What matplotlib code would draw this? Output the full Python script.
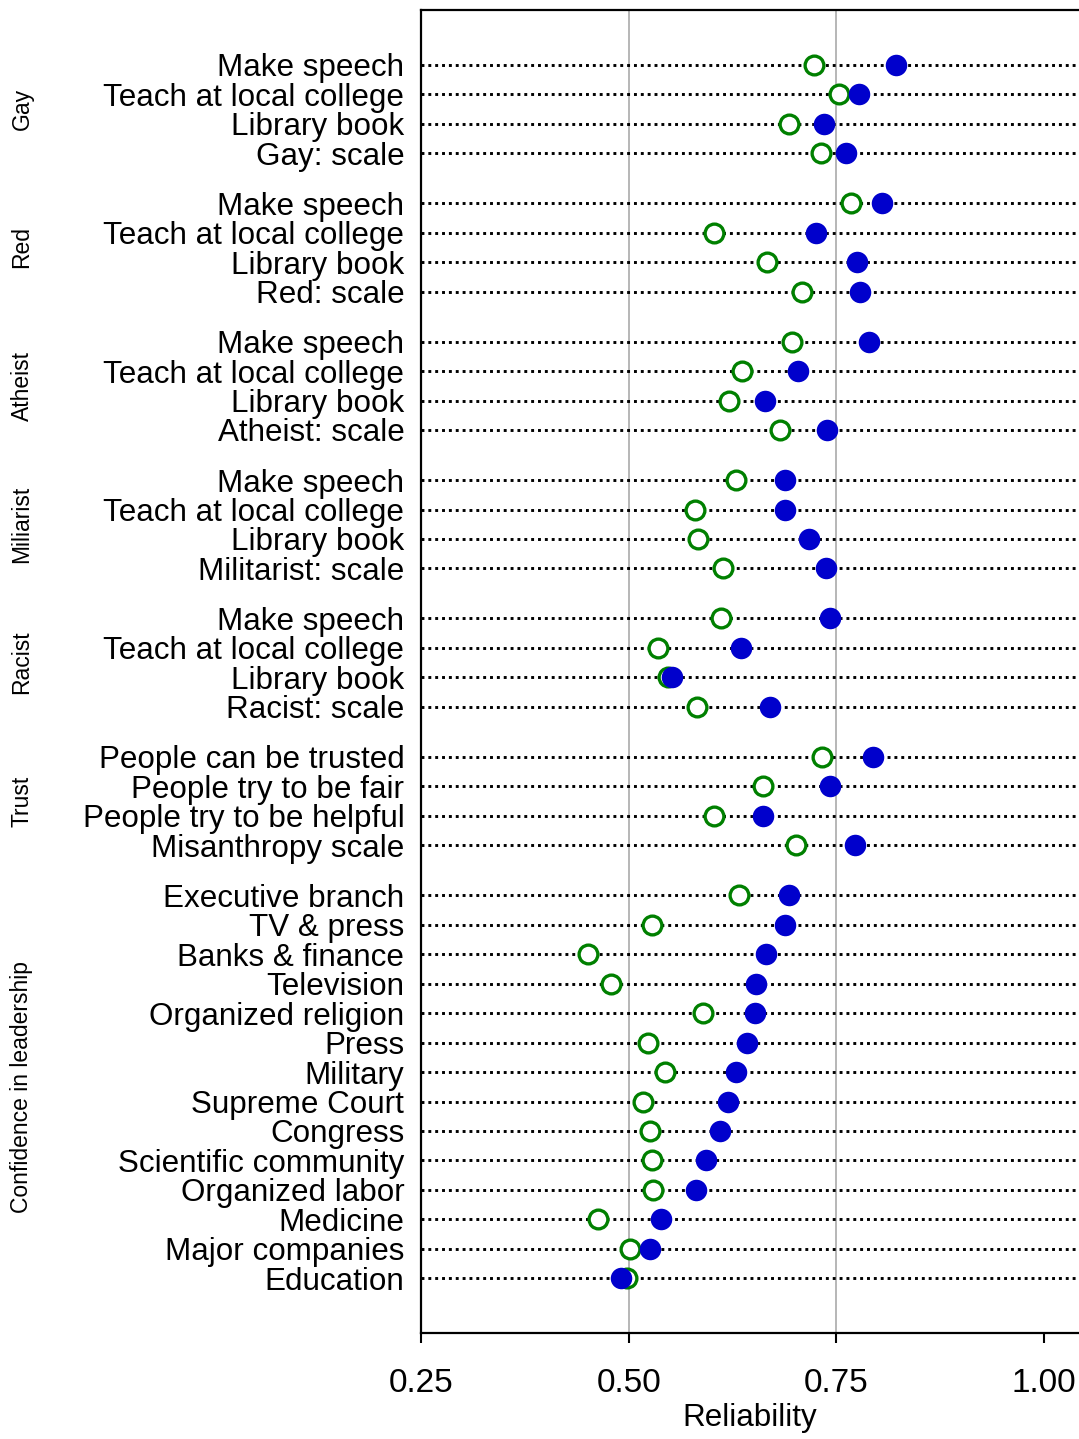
import matplotlib
matplotlib.use("Agg")
import matplotlib.pyplot as plt
import matplotlib.transforms as mtransforms
import numpy as np

plt.rcParams['font.family'] = ['Liberation Sans', 'DejaVu Sans']

groups = ["Gay", "Red", "Atheist", "Miliarist", "Racist", "Trust", "Confidence in leadership"]
group_items = [
    ["Make speech", "Teach at local college", "Library book", "Gay: scale"],
    ["Make speech", "Teach at local college", "Library book", "Red: scale"],
    ["Make speech", "Teach at local college", "Library book", "Atheist: scale"],
    ["Make speech", "Teach at local college", "Library book", "Militarist: scale"],
    ["Make speech", "Teach at local college", "Library book", "Racist: scale"],
    ["People can be trusted", "People try to be fair", "People try to be helpful", "Misanthropy scale"],
    ["Executive branch", "TV & press", "Banks & finance", "Television", "Organized religion",
     "Press", "Military", "Supreme Court", "Congress", "Scientific community",
     "Organized labor", "Medicine", "Major companies", "Education"],
]
green_vals = [
    [0.723, 0.753, 0.693, 0.731],
    [0.767, 0.603, 0.666, 0.708],
    [0.696, 0.636, 0.621, 0.682],
    [0.629, 0.580, 0.583, 0.613],
    [0.611, 0.535, 0.547, 0.582],
    [0.733, 0.662, 0.603, 0.701],
    [0.633, 0.528, 0.451, 0.479, 0.589, 0.523, 0.544, 0.517, 0.526, 0.528, 0.529, 0.463, 0.501, 0.498],
]
blue_vals = [
    [0.822, 0.777, 0.735, 0.761],
    [0.805, 0.725, 0.775, 0.778],
    [0.789, 0.704, 0.664, 0.739],
    [0.688, 0.688, 0.717, 0.737],
    [0.742, 0.635, 0.552, 0.670],
    [0.794, 0.742, 0.662, 0.772],
    [0.693, 0.688, 0.665, 0.653, 0.652, 0.642, 0.629, 0.619, 0.610, 0.593, 0.581, 0.539, 0.526, 0.491],
]
xticks = [0.25, 0.50, 0.75, 1.00]

W, H = 1079, 1439
fig = plt.figure(figsize=(W / 100, H / 100), dpi=100)
left, right, top, bottom = 421, 1079, 10, 1333
ax = fig.add_axes([left / W, 1 - bottom / H, (right - left) / W, (bottom - top) / H])

gap = 0.7
ypos, labels, gv, bv, group_centers = [], [], [], [], []
y = 0.0
for gi, items in enumerate(group_items):
    start = y
    for k, it in enumerate(items):
        ypos.append(y)
        labels.append(it)
        gv.append(green_vals[gi][k])
        bv.append(blue_vals[gi][k])
        y += 1
    group_centers.append((start + y - 1) / 2)
    y += gap
ypos = np.array(ypos)

px_per_unit = 831.0
xmax = 0.25 + (right - left) / px_per_unit
ax.set_xlim(0.25, xmax)
margin = 1.86
ax.set_ylim(ypos[-1] + margin, ypos[0] - margin)

for xv in (0.5, 0.75):
    ax.axvline(xv, color='#aaaaaa', lw=1.2, zorder=1)
for yy in ypos:
    ax.plot([0.25, xmax], [yy, yy], color='black', lw=2.1, linestyle=(0, (1, 1.35)),
            dash_capstyle='butt', zorder=2)

ax.plot(gv, ypos, 'o', ms=13.5, mfc='white', mec='#008000', mew=2.4, zorder=3, linestyle='none')
ax.plot(bv, ypos, 'o', ms=15.5, mfc='#0000cc', mec='#0000cc', mew=0, zorder=4, linestyle='none')

ax.set_yticks(ypos)
ax.set_yticklabels(labels, fontsize=22.6)
for lbl in ax.get_yticklabels():
    lbl.set_verticalalignment('center_baseline')
ax.tick_params(axis='y', length=0, pad=12)
ax.set_xticks(xticks)
ax.set_xticklabels([f"{t:.2f}" for t in xticks], fontsize=24)
ax.tick_params(axis='x', length=7, width=1.5, pad=18)
ax.set_xlabel("Reliability", fontsize=22.6, labelpad=3)

for s in ('left', 'top', 'bottom'):
    ax.spines[s].set_linewidth(1.6)
ax.spines['right'].set_visible(False)

trans = mtransforms.blended_transform_factory(fig.transFigure, ax.transData)
for g, c in zip(groups, group_centers):
    fig.text(22 / W, c, g, transform=trans, rotation=90, ha='center', va='center', fontsize=16.5)

fig.savefig("out.png", dpi=100)
